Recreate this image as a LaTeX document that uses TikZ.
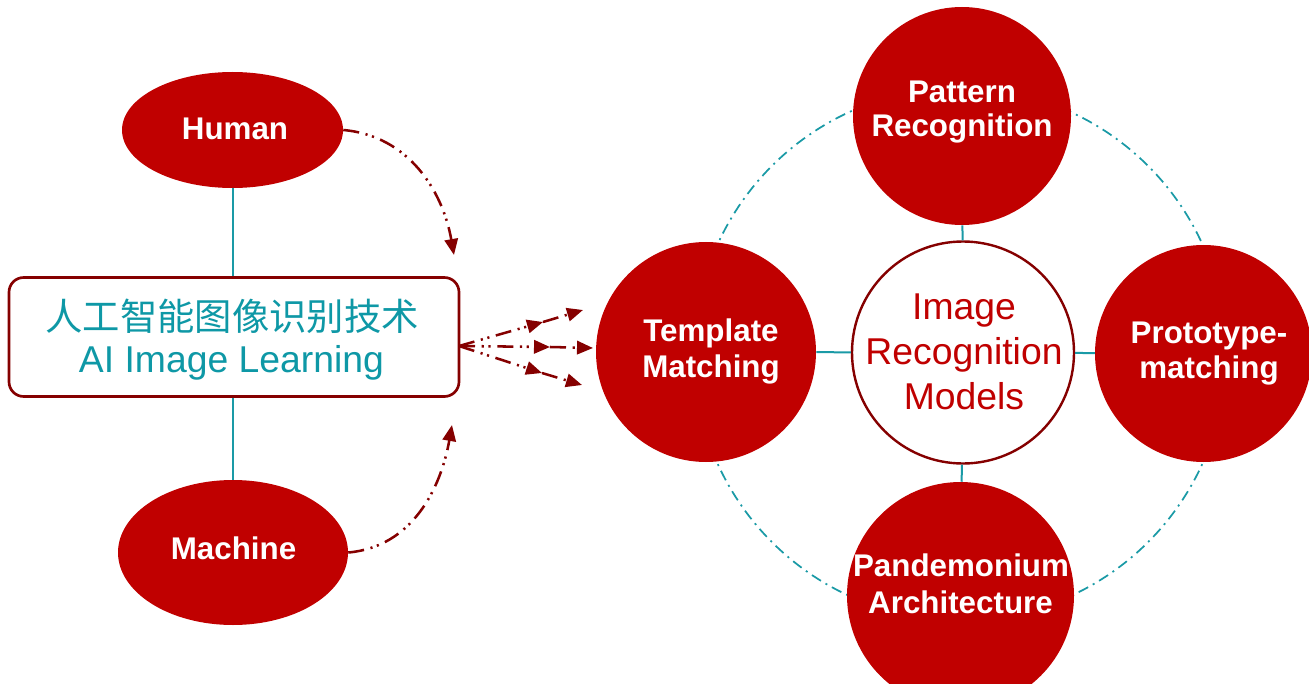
\documentclass[tikz,border=0pt]{standalone}
\usepackage{fontspec}
\setmainfont{Liberation Sans}
\newfontfamily\cjkfont{Noto Sans CJK SC}
\usetikzlibrary{arrows.meta,shapes.geometric}
\definecolor{redfill}{HTML}{C00000}
\definecolor{darkredc}{HTML}{850000}
\definecolor{tealc}{HTML}{1A9AA6}
\definecolor{tealtext}{HTML}{0E98A6}
\begin{document}
\begin{tikzpicture}[x=0.75pt,y=-0.75pt,
  redcirc/.style={circle, fill=redfill, inner sep=0pt, minimum size=#1},
  redell/.style={ellipse, fill=redfill, inner sep=0pt},
  ring/.style={circle, draw=tealc, line width=1.3pt, dash pattern=on 8pt off 4pt on 1.5pt off 4pt, inner sep=0pt, minimum size=399pt},
  midcirc/.style={circle, draw=darkredc, line width=1.8pt, fill=white, inner sep=0pt, minimum size=166.5pt},
  boxstyle/.style={rectangle, rounded corners=11pt, draw=darkredc, line width=2pt, fill=white, minimum width=337.5pt, minimum height=89.25pt, inner sep=0pt},
  wl/.style={text=white, font=\bfseries\fontsize{23.5}{26}\selectfont, anchor=base, inner sep=0pt},
  rl/.style={text=redfill, font=\fontsize{28}{30}\selectfont, anchor=base, inner sep=0pt},
  tl/.style={text=tealtext, font=\fontsize{28}{30}\selectfont, anchor=base, inner sep=0pt},
  tline/.style={draw=tealc, line width=1.5pt},
  ddarrow/.style={draw=darkredc, line width=1.9pt, dash pattern=on 12pt off 5pt on 1.6pt off 3.5pt on 1.6pt off 5pt, -{Triangle[length=12pt,width=10pt]}}
]
\useasboundingbox (0,0) rectangle (1309,684);

% right cluster
\node[ring] (ring) at (960,354) {};
\node[midcirc] (mid) at (963,352.5) {};
\node[redcirc=163.5pt] (pat) at (962,116) {};
\node[redcirc=165pt] (tem) at (706,352) {};
\node[redcirc=162.75pt] (pro) at (1203.5,353.5) {};
\node[redcirc=170.25pt] (pan) at (960.5,595.5) {};

\draw[tline] (mid) -- (pat);
\draw[tline] (mid) -- (tem);
\draw[tline] (mid) -- (pro);
\draw[tline] (mid) -- (pan);

\node[wl] (patA) at (962,103) {Pattern};
\node[wl] (patB) at (962,137) {Recognition};
\node[wl] (temA) at (711,341) {Template};
\node[wl] (temB) at (711,377) {Matching};
\node[wl] (proA) at (1209,343) {Prototype-};
\node[wl] (proB) at (1209,378) {matching};
\node[wl] (panA) at (961,576) {Pandemonium};
\node[wl] (panB) at (960.5,613) {Architecture};

\node[rl] (midA) at (964,319) {Image};
\node[rl] (midB) at (964,364) {Recognition};
\node[rl] (midC) at (964,409) {Models};

% left cluster
\node[redell, minimum width=165.75pt, minimum height=87pt] (hum) at (232.5,130) {};
\node[redell, minimum width=172.5pt, minimum height=108.75pt] (mac) at (233,552.5) {};
\node[boxstyle] (box) at (234,337) {};

\draw[tline] (hum.south) -- (hum.south |- box.north);
\draw[tline] (mac.north |- box.south) -- (mac.north);

\node[wl] (humT) at (235,140) {Human};
\node[wl] (macT) at (233.5,559) {Machine};
\node[text=tealtext, font=\cjkfont\fontsize{28}{30}\selectfont, anchor=base, inner sep=0pt] (boxA) at (232,330) {人工智能图像识别技术};
\node[tl] (boxB) at (231.5,372) {AI Image Learning};

% curved arrows
\coordinate (hT) at (454,255);
\coordinate (mT) at (452,425);
\draw[ddarrow] (hum.east) to[out=-5,in=100] (hT);
\draw[ddarrow] (mac.east) to[out=5,in=-100] (mT);

% fan arrows
\coordinate (f0) at (459,346);
\coordinate (f1m) at (543,322);
\coordinate (f1e) at (583,310);
\coordinate (f2m) at (550,347);
\coordinate (f2e) at (593,348);
\coordinate (f3m) at (542,373);
\coordinate (f3e) at (582,385);
\draw[ddarrow] (f0) -- (f1m);
\draw[ddarrow] (f1m) -- (f1e);
\draw[ddarrow] (f0) -- (f2m);
\draw[ddarrow] (f2m) -- (f2e);
\draw[ddarrow] (f0) -- (f3m);
\draw[ddarrow] (f3m) -- (f3e);
\end{tikzpicture}
\end{document}
